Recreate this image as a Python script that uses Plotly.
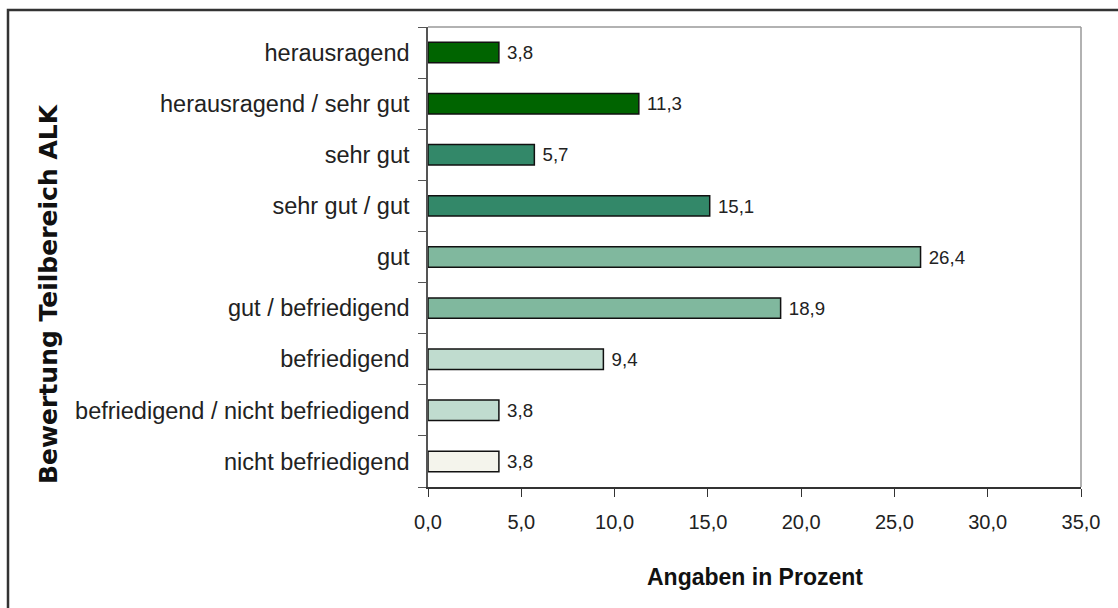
import plotly.graph_objects as go

categories = ["herausragend", "herausragend / sehr gut", "sehr gut", "sehr gut / gut",
              "gut", "gut / befriedigend", "befriedigend",
              "befriedigend / nicht befriedigend", "nicht befriedigend"]
values = [3.8, 11.3, 5.7, 15.1, 26.4, 18.9, 9.4, 3.8, 3.8]
colors = ["#006400", "#006400", "#338869", "#338869", "#80b89e", "#80b89e",
          "#c0dccf", "#c0dccf", "#f4f4ec"]
x_ticks = [0, 5, 10, 15, 20, 25, 30, 35]

W, H = 1118, 608
L, R, T, B = 428, 1081, 27, 487
pw, ph = R - L, B - T

def px(x):
    return (x - L) / pw

def py(y):
    return (B - y) / ph

fig = go.Figure(go.Bar(
    x=values, y=categories, orientation="h",
    marker=dict(color=colors, line=dict(color="#111111", width=1.5)),
    width=0.4,
    texttemplate=" %{x:.1f}", textposition="outside",
    textfont=dict(family="Liberation Sans, Arial", size=21, color="#222222"),
    cliponaxis=False,
))

fig.update_layout(
    width=W, height=H,
    margin=dict(l=L, r=W - R, t=T, b=H - B),
    plot_bgcolor="white", paper_bgcolor="white",
    separators=",.",
    showlegend=False,
    font=dict(family="Liberation Sans, Arial", size=20, color="#222222"),
    xaxis=dict(range=[0, 35], tickvals=x_ticks, tickformat=".1f",
               showgrid=False, zeroline=False, showline=True, linecolor="#333333", linewidth=1.5,
               ticks="outside", ticklen=8, tickcolor="#333333", tickwidth=1.2,
               ticklabelstandoff=8, automargin=False,
               tickfont=dict(family="Liberation Sans, Arial", size=20, color="#222222")),
    yaxis=dict(categoryorder="array", categoryarray=categories[::-1],
               showgrid=False, zeroline=False, showline=True, linecolor="#555555", linewidth=1.5,
               ticks="outside", ticklen=8, tickcolor="#555555", tickson="boundaries",
               ticklabelstandoff=12, automargin=False,
               tickfont=dict(family="Liberation Sans, Arial", size=23.5, color="#222222")),
    shapes=[
        dict(type="line", xref="paper", yref="paper", x0=0, x1=1, y0=1, y1=1,
             line=dict(color="#999999", width=1.5)),
        dict(type="line", xref="paper", yref="paper", x0=1, x1=1, y0=0, y1=1,
             line=dict(color="#999999", width=1.5)),
        dict(type="rect", xref="paper", yref="paper",
             x0=px(8), x1=px(1130), y0=py(620), y1=py(10),
             line=dict(color="#333333", width=2.5)),
    ],
    annotations=[
        dict(text="<b>Bewertung Teilbereich ALK</b>", xref="paper", yref="paper",
             x=px(48), y=py(294), textangle=-90, showarrow=False,
             xanchor="center", yanchor="middle",
             font=dict(family="DejaVu Sans, Liberation Sans", size=25, color="#111111")),
        dict(text="<b>Angaben in Prozent</b>", xref="paper", yref="paper",
             x=0.5, y=py(577), showarrow=False,
             xanchor="center", yanchor="middle",
             font=dict(family="Liberation Sans, Arial", size=23, color="#111111")),
    ],
)

fig.write_html("out.html", config={"displayModeBar": False},
               post_script="document.body.style.margin='0';document.body.style.overflow='hidden';")
